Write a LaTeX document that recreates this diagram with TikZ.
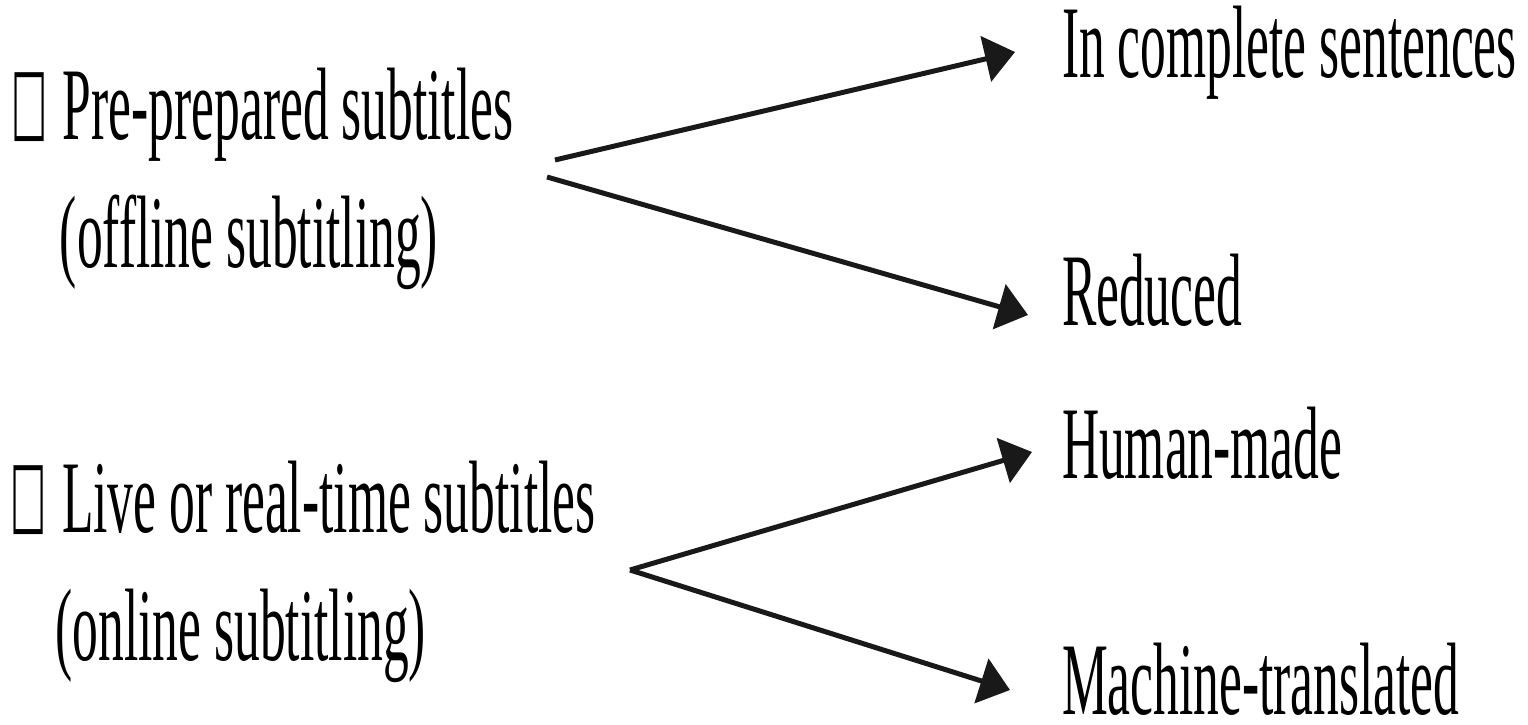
\documentclass[tikz,border=0pt]{standalone}
\usepackage{fontspec}
\setmainfont{Liberation Serif}
\newfontfamily\symf{DejaVu Sans}
\usetikzlibrary{arrows.meta}
\newcommand{\sx}[1]{\scalebox{0.5}[1]{#1}}
\newcommand{\bul}{\raisebox{9pt}{\symf\bfseries\fontsize{90}{90}\selectfont\scalebox{0.85}[1]{□}}}
\tikzset{
  lbl/.style={inner sep=0pt, outer sep=0pt, anchor=base west, font=\fontsize{103}{128}\selectfont},
  arr/.style={line width=5pt, draw=black!90, -{Triangle[length=30pt,width=46pt]}}
}
\begin{document}
\begin{tikzpicture}[x=1pt,y=1pt]
\useasboundingbox (0,0) rectangle (1528,724);
% left items
\node[lbl] (pre) at (12,584) {\sx{\begin{tabular}[t]{@{}l@{}}\makebox[102pt][l]{\bul}Pre-prepared subtitles\\\hspace{96pt}(offline subtitling)\end{tabular}}};
\node[lbl] (live) at (10,192) {\sx{\begin{tabular}[t]{@{}l@{}}\makebox[104pt][l]{\bul}Live or real-time subtitles\\\hspace{91pt}(online subtitling)\end{tabular}}};
% right labels
\node[lbl] (inc) at (1062,646) {\sx{In complete sentences}};
\node[lbl] (red) at (1062,399) {\sx{Reduced}};
\node[lbl] (hum) at (1062,246) {\sx{Human-made}};
\node[lbl] (mac) at (1062,10) {\sx{Machine-translated}};
% branch points
\coordinate (a1u) at (555,564);
\coordinate (a1l) at (547,547);
\coordinate (a2) at (630,154);
% arrow tips
\coordinate (tinc) at ([shift={(-47,26)}]inc.base west);
\coordinate (tred) at ([shift={(-34,10)}]red.base west);
\coordinate (thum) at ([shift={(-30,26)}]hum.base west);
\coordinate (tmac) at ([shift={(-52,24)}]mac.base west);
\draw[arr] (a1u) -- (tinc);
\draw[arr] (a1l) -- (tred);
\draw[arr] (a2) -- (thum);
\draw[arr] (a2) -- (tmac);
\end{tikzpicture}
\end{document}
